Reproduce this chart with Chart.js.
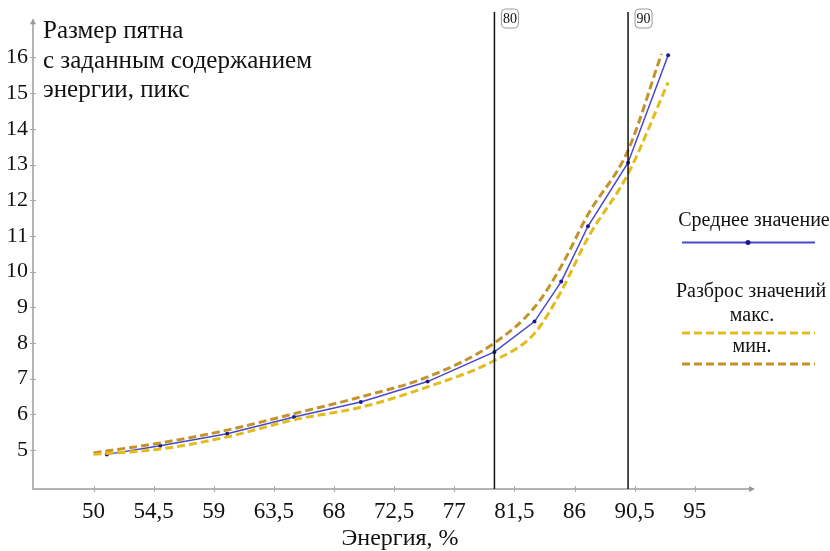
<!DOCTYPE html>
<html lang="ru">
<head>
  <meta charset="UTF-8">
  <title>Размер пятна</title>
  <script src="https://cdn.jsdelivr.net/npm/chart.js"></script>
  <style>
    body { margin: 0; background: #fff; }
    #wrap { width: 830px; height: 551px; }
  </style>
</head>
<body>
  <div id="wrap"><canvas id="spotChart" width="830" height="551"></canvas></div>
  <script>
    // tick labels
    const xTicks = [50, 54.5, 59, 63.5, 68, 72.5, 77, 81.5, 86, 90.5, 95];
    const yTicks = [5, 6, 7, 8, 9, 10, 11, 12, 13, 14, 15, 16];
    const markers = [80, 90];

    // среднее значение
    const meanEnergy = [51, 55, 60, 65, 70, 75, 80, 83, 85, 87, 90, 93];
    const meanSize = [4.88, 5.12, 5.46, 5.93, 6.35, 6.92, 7.75, 8.6, 9.72, 11.27, 13.05, 16.06];

    // разброс: мин. (верхняя, тёмная)
    const minEnergy = [50, 55, 60, 65, 70, 75, 80, 83, 85, 87, 90, 92.5];
    const minSize = [4.92, 5.2, 5.56, 6.02, 6.49, 7.05, 8.0, 9.0, 10.15, 11.6, 13.4, 16.1];

    // разброс: макс. (нижняя, жёлтая)
    const maxEnergy = [50, 55, 60, 65, 70, 75, 80, 83, 85, 87, 90, 93];
    const maxSize = [4.88, 5.03, 5.37, 5.85, 6.2, 6.77, 7.51, 8.27, 9.45, 10.95, 12.74, 15.3];

    const serif = "'Liberation Serif', 'Times New Roman', serif";
    const BLUE = '#4848cc';
    const DARK = '#c4932c';
    const YELLOW = '#e2bc1e';
    const AXIS = '#b4b4b4';

    const pts = (xs, ys) => xs.map((x, i) => ({ x: x, y: ys[i] }));

    const decorations = {
      id: 'decorations',
      beforeDatasetsDraw(chart) {
        const { ctx, chartArea: a, scales: { x, y } } = chart;
        const y0 = a.bottom;
        ctx.save();
        ctx.strokeStyle = AXIS;
        ctx.fillStyle = '#999';
        ctx.lineWidth = 2;
        // y axis
        ctx.beginPath();
        ctx.moveTo(a.left, y0 + 1);
        ctx.lineTo(a.left, a.top + 4);
        ctx.stroke();
        ctx.beginPath();
        ctx.moveTo(a.left, a.top);
        ctx.lineTo(a.left - 3, a.top + 6);
        ctx.lineTo(a.left + 3, a.top + 6);
        ctx.closePath();
        ctx.fill();
        // x axis
        ctx.beginPath();
        ctx.moveTo(a.left - 1, y0);
        ctx.lineTo(a.right - 4, y0);
        ctx.stroke();
        ctx.beginPath();
        ctx.moveTo(a.right, y0);
        ctx.lineTo(a.right - 6, y0 - 3);
        ctx.lineTo(a.right - 6, y0 + 3);
        ctx.closePath();
        ctx.fill();
        // tick marks
        ctx.lineWidth = 1;
        ctx.strokeStyle = '#aaa';
        yTicks.forEach(v => {
          const p = Math.round(y.getPixelForValue(v)) + 0.5;
          ctx.beginPath();
          ctx.moveTo(a.left - 3, p);
          ctx.lineTo(a.left + 3, p);
          ctx.stroke();
        });
        xTicks.forEach(v => {
          const p = Math.round(x.getPixelForValue(v)) + 0.5;
          ctx.beginPath();
          ctx.moveTo(p, y0 - 3);
          ctx.lineTo(p, y0 + 3);
          ctx.stroke();
        });
        ctx.restore();
      },
      afterDatasetsDraw(chart) {
        const { ctx, chartArea: a, scales: { x } } = chart;
        ctx.save();
        // vertical marker lines with boxed labels
        markers.forEach(m => {
          const p = x.getPixelForValue(m);
          ctx.strokeStyle = '#111';
          ctx.lineWidth = 1.5;
          ctx.beginPath();
          ctx.moveTo(p, 12);
          ctx.lineTo(p, a.bottom);
          ctx.stroke();
          const bx = p + 7, by = 9, bw = 17, bh = 19;
          ctx.fillStyle = '#fff';
          ctx.strokeStyle = '#9a9a9a';
          ctx.lineWidth = 1;
          ctx.beginPath();
          ctx.roundRect(bx, by, bw, bh, 4);
          ctx.fill();
          ctx.stroke();
          ctx.fillStyle = '#111';
          ctx.font = '14px ' + serif;
          ctx.textAlign = 'center';
          ctx.textBaseline = 'middle';
          ctx.fillText(String(m), bx + bw / 2, by + bh / 2 + 1);
        });

        // axis titles
        ctx.fillStyle = '#111';
        ctx.textAlign = 'left';
        ctx.textBaseline = 'alphabetic';
        ctx.font = '25px ' + serif;
        ctx.fillText('Размер пятна', 43, 38);
        ctx.fillText('с заданным содержанием', 43, 68);
        ctx.fillText('энергии, пикс', 43, 97);
        ctx.textAlign = 'center';
        ctx.font = '24px ' + serif;
        ctx.fillText('Энергия, %', 400, 545);

        // legend
        ctx.font = '20px ' + serif;
        ctx.fillText('Среднее значение', 754, 226);
        ctx.strokeStyle = BLUE;
        ctx.lineWidth = 2;
        ctx.beginPath();
        ctx.moveTo(682, 242.5);
        ctx.lineTo(815, 242.5);
        ctx.stroke();
        ctx.fillStyle = '#1a1a90';
        ctx.beginPath();
        ctx.arc(748, 242.5, 2.5, 0, Math.PI * 2);
        ctx.fill();

        ctx.fillStyle = '#111';
        ctx.fillText('Разброс значений', 751, 297);
        ctx.fillText('макс.', 752, 321);
        ctx.fillText('мин.', 752, 352);
        ctx.lineWidth = 3;
        ctx.setLineDash([8, 4]);
        ctx.strokeStyle = YELLOW;
        ctx.beginPath();
        ctx.moveTo(682, 333);
        ctx.lineTo(815, 333);
        ctx.stroke();
        ctx.strokeStyle = DARK;
        ctx.beginPath();
        ctx.moveTo(682, 364);
        ctx.lineTo(815, 364);
        ctx.stroke();
        ctx.restore();
      }
    };

    const ctx = document.getElementById('spotChart').getContext('2d');
    new Chart(ctx, {
      type: 'line',
      data: {
        datasets: [
          {
            label: 'макс.',
            data: pts(maxEnergy, maxSize),
            borderColor: YELLOW,
            borderWidth: 3,
            borderDash: [8, 4],
            pointRadius: 0,
            cubicInterpolationMode: 'monotone',
            fill: false
          },
          {
            label: 'мин.',
            data: pts(minEnergy, minSize),
            borderColor: DARK,
            borderWidth: 3,
            borderDash: [8, 4],
            pointRadius: 0,
            cubicInterpolationMode: 'monotone',
            fill: false
          },
          {
            label: 'Среднее значение',
            data: pts(meanEnergy, meanSize),
            borderColor: BLUE,
            borderWidth: 1.5,
            pointRadius: 2,
            pointBackgroundColor: '#1a1a90',
            pointBorderWidth: 0,
            tension: 0,
            fill: false
          }
        ]
      },
      options: {
        responsive: false,
        animation: false,
        layout: { padding: { left: 0, top: 17, right: 75, bottom: 0 } },
        plugins: {
          legend: { display: false },
          tooltip: { enabled: false }
        },
        scales: {
          x: {
            type: 'linear',
            min: 45.47,
            max: 99.5,
            grid: { display: false, drawTicks: false },
            border: { display: false },
            afterBuildTicks: s => { s.ticks = xTicks.map(v => ({ value: v })); },
            afterFit: s => { s.height = 62; },
            ticks: {
              padding: 9,
              color: '#111',
              maxRotation: 0,
              autoSkip: false,
              font: { family: serif, size: 23 },
              callback: v => String(v).replace('.', ',')
            }
          },
          y: {
            min: 3.91,
            max: 17.1,
            grid: { display: false, drawTicks: false },
            border: { display: false },
            afterBuildTicks: s => { s.ticks = yTicks.map(v => ({ value: v })); },
            afterFit: s => { s.width = 33; },
            ticks: {
              padding: 5,
              color: '#111',
              autoSkip: false,
              font: { family: serif, size: 22 }
            }
          }
        }
      },
      plugins: [decorations]
    });
  </script>
</body>
</html>
